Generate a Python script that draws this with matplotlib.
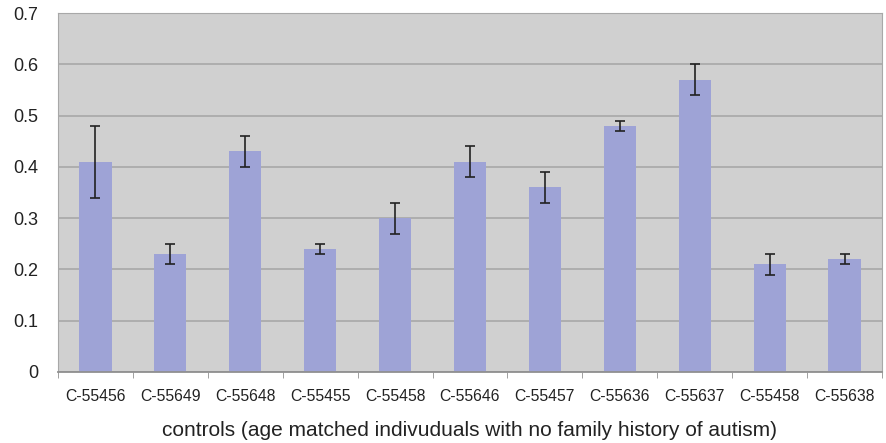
from matplotlib import pyplot as plt
import numpy as np

samples = ['C-55456', 'C-55649', 'C-55648', 'C-55455', 'C-55458', 'C-55646',
           'C-55457', 'C-55636', 'C-55637', 'C-55458', 'C-55638']
means = [0.41, 0.23, 0.43, 0.24, 0.30, 0.41, 0.36, 0.48, 0.57, 0.21, 0.22]
errors = [0.07, 0.02, 0.03, 0.01, 0.03, 0.03, 0.03, 0.01, 0.03, 0.02, 0.01]
y_ticks = [0, 0.1, 0.2, 0.3, 0.4, 0.5, 0.6, 0.7]

plt.rcParams['font.family'] = ['Liberation Sans', 'DejaVu Sans']

x = np.arange(len(samples))

fig = plt.figure(figsize=(8.87, 4.43), dpi=100)
ax = fig.add_axes([58/887, 1 - 372/443, 824/887, 359/443])
ax.set_facecolor('#d0d0d0')

ax.bar(x, means, 0.43, color='#9ea3d6', zorder=2)
ax.errorbar(x, means, yerr=errors, fmt='none', ecolor='#222222',
            elinewidth=1.2, capsize=3.5, capthick=1.2, zorder=3)

ax.set_xlim(-0.5, len(samples) - 0.5)
ax.set_ylim(0, 0.7)
ax.set_yticks(y_ticks)
ax.set_yticklabels(['0', '0.1', '0.2', '0.3', '0.4', '0.5', '0.6', '0.7'], fontsize=13)
ax.yaxis.grid(True, color='#a8a8a8', linewidth=1.2, zorder=1)
ax.set_axisbelow(True)
ax.tick_params(axis='y', length=0, pad=14, colors='#222222')

ax.set_xticks(x)
ax.set_xticklabels(samples, fontsize=11.3, color='#222222')
ax.set_xticks(np.arange(len(samples) + 1) - 0.5, minor=True)
ax.tick_params(axis='x', which='major', length=0, pad=12)
ax.tick_params(axis='x', which='minor', length=4, direction='out', color='#909090')

for s in ['top', 'right', 'left']:
    ax.spines[s].set_color('#a8a8a8')
ax.spines['bottom'].set_color('#909090')
ax.spines['bottom'].set_linewidth(1.3)

fig.text(470/887, 1 - 430/443,
         'controls (age matched indivuduals with no family history of autism)',
         fontsize=15, color='#222222', ha='center', va='center')

plt.savefig('out.png', dpi=100)
